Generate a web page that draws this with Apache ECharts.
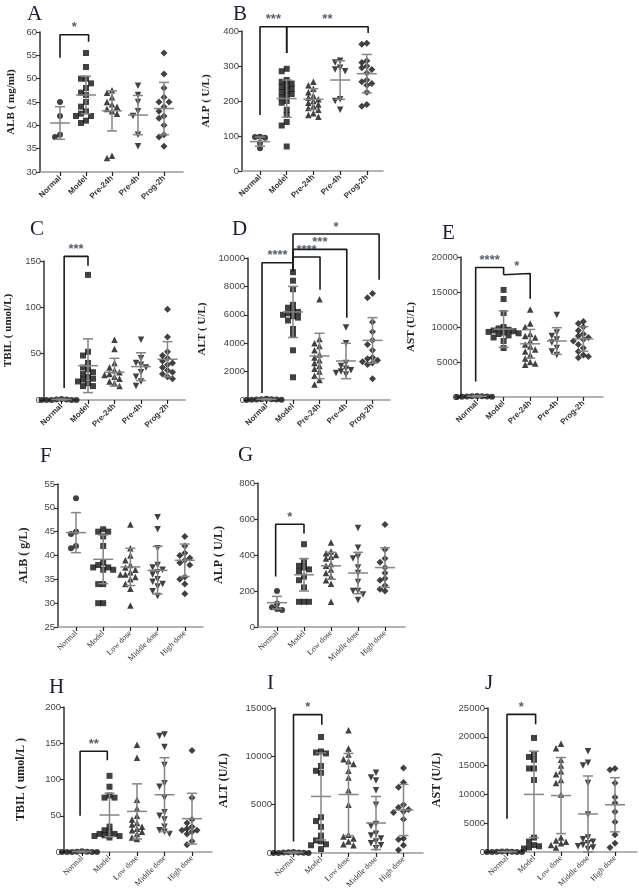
<!DOCTYPE html>
<html>
<head>
<meta charset="utf-8">
<script src="https://cdn.jsdelivr.net/npm/echarts@6/dist/echarts.min.js"></script>
<style>
html, body { margin: 0; background: #fff; }
#main { width: 639px; height: 896px; }
</style>
</head>
<body>
<div id="main"></div>
<script>
// group names
var groupsPre = ['Normal', 'Model', 'Pre-24h', 'Pre-4h', 'Prog-2h'];
var groupsDose = ['Normal', 'Model', 'Low dose', 'Middle dose', 'High dose'];

// A - ALB (mg/ml)
var albPre = [
  [45, 42, 38, 37.5],
  [55.5, 52.5, 50, 50, 49, 48, 47, 46.5, 45, 44, 43, 42.5, 42, 42, 41, 40.5],
  [47.5, 47, 46, 45, 44.5, 44, 43.5, 43, 42.5, 33.5, 33],
  [48.5, 46.5, 45, 43, 42, 38, 35.5],
  [55.5, 51, 48, 46, 45, 45, 44, 43, 42, 41.5, 40, 38, 37.5, 35.5]
];
var albPreMean = [40.5, 46.5, 43.1, 42.2, 43.6];
var albPreSd = [3.5, 4, 4.3, 4.2, 5.6];
var albPreSig = [[0, 54.5, 1.1, 57.9, 59.4, '*']];

// B - ALP (U/L)
var alpPre = [
  [98, 97, 95, 80, 65],
  [292, 285, 260, 255, 250, 245, 240, 235, 230, 225, 220, 215, 210, 200, 195, 175, 160, 140, 130, 70],
  [255, 245, 235, 225, 215, 210, 205, 200, 195, 190, 185, 180, 175, 165, 160, 155],
  [315, 310, 295, 290, 285, 205, 200, 175],
  [365, 362, 315, 310, 300, 295, 290, 280, 260, 255, 250, 245, 225, 190, 185]
];
var alpPreMean = [84, 207, 205, 260, 278];
var alpPreSd = [13, 53, 30, 55, 55];
var alpPreSig = [[0, 160, 1, 337, 412, '***'], [1, 337, 4.05, 394, 412, '**']];

// C - TBIL (umol/L)
var tbilPre = [
  [1, 0.5, 0.5, 0, 0, 0, 0, 0],
  [135, 52, 48, 40, 35, 33, 30, 28, 25, 23, 22, 20, 18, 15, 15],
  [65, 55, 40, 35, 32, 30, 28, 27, 25, 23, 20, 18, 15],
  [65, 45, 40, 38, 35, 30, 25, 20, 15],
  [98, 68, 52, 48, 45, 42, 40, 38, 35, 32, 30, 28, 25, 23]
];
var tbilPreMean = [0.5, 37, 30, 36, 44];
var tbilPreSd = [0.5, 29, 15, 15, 19];
var tbilPreSig = [[0.1, 13, 1, 145, 155, '***']];

// D - ALT (U/L)
var altPre = [
  [80, 60, 50, 40, 30, 20, 10, 0],
  [9000, 8400, 7800, 6700, 6500, 6300, 6200, 6100, 6000, 5900, 5800, 5600, 5000, 4600, 3500, 1600],
  [7100, 4300, 4000, 3800, 3500, 3200, 3000, 2800, 2600, 2400, 2200, 2000, 1700, 1400, 1100],
  [5100, 4000, 2600, 2400, 2200, 2100, 2000, 1900, 1800],
  [7500, 7200, 5500, 4800, 4200, 3900, 3500, 3000, 2900, 2800, 2700, 2600, 2500, 1500]
];
var altPreMean = [50, 6200, 3100, 2750, 4200];
var altPreSd = [40, 1800, 1600, 1250, 1600];
var altPreSig = [
  [-0.17, 500, 1, 9060, 9670, '****'],
  [1, 9060, 2.02, 7760, 10070, '****'],
  [1, 9060, 3.03, 5790, 10610, '***'],
  [1, 9060, 4.25, 8470, 11690, '*']
];

// E - AST (U/L)
var astPre = [
  [150, 120, 100, 80, 60, 40, 20, 0],
  [15300, 14000, 12000, 10000, 9800, 9600, 9500, 9400, 9300, 9200, 9100, 9000, 8800, 8500, 8000, 7000],
  [12500, 10500, 10000, 9000, 8700, 8500, 8000, 7500, 7200, 6800, 6500, 6000, 5500, 5000, 4800, 4600],
  [11700, 9200, 8700, 8200, 7800, 7000, 6500, 6000],
  [10800, 10500, 10000, 9500, 9000, 8700, 8500, 8200, 8000, 7500, 7000, 6500, 6000, 5800, 5600]
];
var astPreMean = [100, 9700, 7600, 8000, 8300];
var astPreSd = [80, 2600, 2050, 1900, 1750];
var astPreSig = [[-0.05, 2230, 1, 17470, 18510, '****'], [1, 17470, 2, 14040, 17640, '*']];

// F - ALB (g/L)
var albDose = [
  [52, 45, 44.5, 42, 41.5],
  [45.5, 45, 45, 44, 42, 38.5, 38, 37.5, 37.5, 37, 37, 34, 34, 30, 30],
  [46.5, 41.5, 40, 39, 38, 37.5, 37, 36.5, 36, 36, 35.5, 35, 34, 33, 29.5],
  [48, 45.5, 41.5, 38, 37.5, 37, 36.5, 36, 35, 34.5, 34, 33.5, 32.5, 31.5],
  [44, 42, 40.5, 40, 39.5, 39, 38.5, 38, 35.5, 35, 34, 32]
];
var albDoseMean = [44.8, 39.2, 37.6, 36.9, 39];
var albDoseSd = [4.2, 5.1, 3.9, 5, 3.4];
var albDoseSig = [];

// G - ALP (U/L)
var alpDose = [
  [200, 130, 110, 100, 95],
  [460, 360, 340, 330, 320, 310, 280, 260, 220, 140, 140, 140],
  [470, 420, 410, 400, 390, 380, 350, 340, 320, 300, 280, 260, 240, 140],
  [550, 440, 390, 380, 330, 300, 250, 200, 200, 180, 150],
  [570, 430, 380, 360, 330, 300, 270, 260, 230, 210, 200]
];
var alpDoseMean = [135, 290, 340, 300, 330];
var alpDoseSd = [35, 90, 75, 115, 110];
var alpDoseSig = [[-0.05, 280, 1, 520, 571, '*']];

// H - TBIL (umol/L)
var tbilDose = [
  [1, 0.5, 0.5, 0, 0, 0, 0, 0],
  [105, 90, 78, 75, 75, 35, 30, 28, 25, 25, 23, 22, 22, 20],
  [148, 130, 72, 60, 50, 45, 40, 38, 35, 32, 30, 28, 25, 20, 18],
  [162, 160, 145, 120, 95, 90, 75, 55, 50, 45, 35, 30, 28, 25],
  [140, 75, 45, 40, 35, 32, 30, 30, 28, 25, 15, 10]
];
var tbilDoseMean = [0.5, 51, 56, 79, 46];
var tbilDoseSd = [0.5, 30, 38, 51, 35];
var tbilDoseSig = [[-0.07, 50, 0.92, 126.4, 138.9, '**']];

// I - ALT (U/L)
var altDose = [
  [100, 80, 60, 40, 20, 0, 0, 0],
  [12000, 10500, 10400, 10300, 9000, 8500, 8300, 3700, 3300, 2700, 1800, 1300, 1200, 900, 800, 400],
  [12700, 10800, 10200, 9700, 9500, 9200, 8500, 7800, 6500, 5000, 1900, 1700, 1500, 1200, 900, 800],
  [8300, 7800, 7500, 6500, 5000, 3000, 2800, 2000, 1800, 1500, 1200, 1000, 800, 500],
  [8800, 7300, 6800, 5000, 4700, 4500, 4300, 4200, 3500, 1500, 1400, 800, 300]
];
var altDoseMean = [50, 5850, 6050, 3100, 4450];
var altDoseSd = [40, 4500, 4250, 2750, 2650];
var altDoseSig = [[0, 1200, 1.03, 13280, 14310, '*']];

// J - AST (U/L)
var astDose = [
  [100, 80, 60, 40, 20, 0, 0, 0],
  [19800, 17000, 16500, 16000, 14500, 14500, 12500, 2500, 1800, 1200, 1000, 800, 600],
  [18800, 18000, 16000, 15000, 14000, 13500, 12500, 12000, 10000, 2500, 2000, 1800, 1500, 1200, 800],
  [17500, 15500, 15000, 12000, 6500, 2500, 2200, 1800, 1500, 1200, 1000, 800, 500],
  [14500, 14300, 12000, 9500, 8500, 7000, 5200, 3000, 1500, 800]
];
var astDoseMean = [50, 10000, 9800, 6600, 8200];
var astDoseSd = [40, 7500, 6600, 6600, 4700];
var astDoseSig = [[0, 5760, 1.06, 22170, 23900, '*']];

// panel layout: box = [axisLeft, axisRight, yTopPx, yBottomPx, firstCatPx, catStep]
var panels = [
  { tag: 'A', cats: groupsPre, pts: albPre, mean: albPreMean, sd: albPreSd, sig: albPreSig, name: 'ALB ( mg/ml)', y: [30, 60, 5], box: [40, 183, 32, 172, 60, 26], gap: 23, letter: [27, 4], serif: false },
  { tag: 'B', cats: groupsPre, pts: alpPre, mean: alpPreMean, sd: alpPreSd, sig: alpPreSig, name: 'ALP ( U/L)', y: [0, 400, 100], box: [242, 383, 31, 171, 260, 26.7], gap: 30, letter: [233, 4], serif: false },
  { tag: 'C', cats: groupsPre, pts: tbilPre, mean: tbilPreMean, sd: tbilPreSd, sig: tbilPreSig, name: 'TBIL ( umol/L)', y: [0, 150, 50], box: [44, 185, 261, 400, 61.5, 26.5], gap: 30, letter: [30, 219], serif: false },
  { tag: 'D', cats: groupsPre, pts: altPre, mean: altPreMean, sd: altPreSd, sig: altPreSig, name: 'ALT ( U/L)', y: [0, 10000, 2000], box: [248, 390, 258, 400, 266.5, 26.5], gap: 40, letter: [232, 219], serif: false },
  { tag: 'E', cats: groupsPre, pts: astPre, mean: astPreMean, sd: astPreSd, sig: astPreSig, name: 'AST (U/L)', y: [0, 20000, 5000], box: [461, 603, 257, 397, 477, 26.6], gap: 44, letter: [442, 223], serif: false },
  { tag: 'F', cats: groupsDose, pts: albDose, mean: albDoseMean, sd: albDoseSd, sig: albDoseSig, name: 'ALB ( g/L)', y: [25, 55, 5], box: [58, 203, 484, 627, 76, 27.2], gap: 28, letter: [40, 446], serif: true },
  { tag: 'G', cats: groupsDose, pts: alpDose, mean: alpDoseMean, sd: alpDoseSd, sig: alpDoseSig, name: 'ALP ( U/L)', y: [0, 800, 200], box: [258, 405, 483, 627, 277, 27], gap: 33, letter: [238, 445], serif: true },
  { tag: 'H', cats: groupsDose, pts: tbilDose, mean: tbilDoseMean, sd: tbilDoseSd, sig: tbilDoseSig, name: 'TBIL ( umol/L )', y: [0, 200, 50], box: [64, 212, 707, 852, 82, 27.5], gap: 37, letter: [49, 677], serif: true },
  { tag: 'I', cats: groupsDose, pts: altDose, mean: altDoseMean, sd: altDoseSd, sig: altDoseSig, name: 'ALT (U/L)', y: [0, 15000, 5000], box: [275, 423, 708, 853, 293.5, 27.5], gap: 45, letter: [267, 673], serif: true },
  { tag: 'J', cats: groupsDose, pts: astDose, mean: astDoseMean, sd: astDoseSd, sig: astDoseSig, name: 'AST (U/L)', y: [0, 25000, 5000], box: [488, 637, 708, 852, 507, 27], gap: 45, letter: [485, 673], serif: true }
];

var symbols = ['circle', 'rect', 'triangle', 'triangle', 'diamond'];
var symRot = [0, 0, 0, 180, 0];
var symSize = [6, 6, 6.5, 6.5, 7];

// simple beeswarm: spread points of equal height sideways (pixel offsets)
function swarm(vals, pxPerUnit, step) {
  var placed = [];
  return vals.map(function (v) {
    var y = v * pxPerUnit;
    for (var k = 0; k < 40; k++) {
      var dx = k === 0 ? 0 : (k % 2 ? -1 : 1) * Math.ceil(k / 2) * step;
      var hit = placed.some(function (p) {
        return Math.abs(p.y - y) < step && Math.abs(p.dx - dx) < step;
      });
      if (!hit) { placed.push({ y: y, dx: dx }); return dx; }
    }
    return 0;
  });
}

function errRender(params, api) {
  var i = api.value(0), m = api.value(1), s = api.value(2);
  var c = api.coord([i, m]), t = api.coord([i, m + s]), b = api.coord([i, m - s]);
  var st = { stroke: '#858585', lineWidth: 1.5 };
  return {
    type: 'group',
    children: [
      { type: 'line', shape: { x1: c[0] - 10, y1: c[1], x2: c[0] + 10, y2: c[1] }, style: st },
      { type: 'line', shape: { x1: t[0], y1: t[1], x2: b[0], y2: b[1] }, style: st },
      { type: 'line', shape: { x1: t[0] - 5, y1: t[1], x2: t[0] + 5, y2: t[1] }, style: st },
      { type: 'line', shape: { x1: b[0] - 5, y1: b[1], x2: b[0] + 5, y2: b[1] }, style: st }
    ]
  };
}

var grids = [], xAxes = [], yAxes = [], series = [], titles = [];

panels.forEach(function (p, gi) {
  var b = p.box;
  var left = b[0], right = b[1], top = b[2], bottom = b[3], c0 = b[4], step = b[5];
  var h = bottom - top;
  var pxPerUnit = h / (p.y[1] - p.y[0]);
  var xmin = (left - c0) / step;
  var xmax = 4 + (right - (c0 + 4 * step)) / step;
  var labFont = p.serif ? 'Liberation Serif' : 'Liberation Sans';

  grids.push({ left: left, top: top, width: right - left, height: h, containLabel: false, outerBoundsMode: 'none' });

  xAxes.push({
    type: 'value', gridIndex: gi, min: xmin, max: xmax,
    splitLine: { show: false },
    axisLine: { onZero: false, lineStyle: { color: '#9a9a9a', width: 1.5 } },
    axisTick: { customValues: [0, 1, 2, 3, 4], length: 4, lineStyle: { color: '#222', width: 1.2 } },
    axisLabel: {
      customValues: [0, 1, 2, 3, 4], rotate: 45, margin: 5,
      fontSize: 8, fontFamily: labFont, fontWeight: p.serif ? 'normal' : 'bold', color: '#333',
      formatter: (function (cats) { return function (v) { return cats[Math.round(v)]; }; })(p.cats)
    }
  });

  yAxes.push({
    type: 'value', gridIndex: gi, min: p.y[0], max: p.y[1], interval: p.y[2],
    name: p.name, nameLocation: 'middle', nameRotate: 90, nameGap: p.gap,
    nameTextStyle: { fontFamily: 'Liberation Serif', fontWeight: 'bold', fontSize: p.serif ? 12 : 11, color: '#222' },
    splitLine: { show: false },
    axisLine: { show: true, onZero: false, lineStyle: { color: '#333', width: 1.5 } },
    axisTick: { show: true, length: 4, lineStyle: { color: '#333', width: 1.2 } },
    axisLabel: {
      fontSize: 9.5, fontFamily: 'Liberation Sans', color: '#444', margin: 3,
      formatter: function (v) { return String(v); }
    }
  });

  titles.push({
    text: p.tag, left: p.letter[0], top: p.letter[1], padding: 0,
    textStyle: { fontFamily: 'Liberation Serif', fontSize: 21, fontWeight: 'normal', color: '#1c1c30' }
  });

  // dots per group
  p.pts.forEach(function (vals, i) {
    var offs = swarm(vals, pxPerUnit, 5);
    series.push({
      type: 'scatter', xAxisIndex: gi, yAxisIndex: gi, clip: false,
      symbol: symbols[i], symbolRotate: symRot[i], symbolSize: symSize[i],
      itemStyle: { color: '#111' }, z: 2,
      data: vals.map(function (v, k) { return { value: [i, v], symbolOffset: [offs[k], 0] }; })
    });
  });

  // mean +/- SD
  series.push({
    type: 'custom', xAxisIndex: gi, yAxisIndex: gi, clip: false, z: 3,
    renderItem: errRender,
    data: p.mean.map(function (m, i) { return [i, m, p.sd[i]]; })
  });

  // significance brackets
  p.sig.forEach(function (s) {
    series.push({
      type: 'line', xAxisIndex: gi, yAxisIndex: gi, clip: false, symbol: 'none', z: 4,
      lineStyle: { color: '#1a1a1a', width: 1.6 },
      data: [[s[0], s[1]], [s[0], s[4]], [s[2], s[4]], [s[2], s[3]]]
    });
    series.push({
      type: 'scatter', xAxisIndex: gi, yAxisIndex: gi, clip: false, symbolSize: 1, z: 5,
      itemStyle: { color: 'rgba(0,0,0,0)' },
      label: {
        show: true, position: 'top', distance: 0, formatter: s[5],
        fontSize: 13, fontWeight: 'bold', fontFamily: 'Liberation Sans', color: '#2a3550'
      },
      data: [[(s[0] + s[2]) / 2, s[4]]]
    });
  });
});

var chart = echarts.init(document.getElementById('main'));
chart.setOption({
  animation: false,
  backgroundColor: '#fff',
  title: titles,
  grid: grids,
  xAxis: xAxes,
  yAxis: yAxes,
  series: series
});
</script>
</body>
</html>
